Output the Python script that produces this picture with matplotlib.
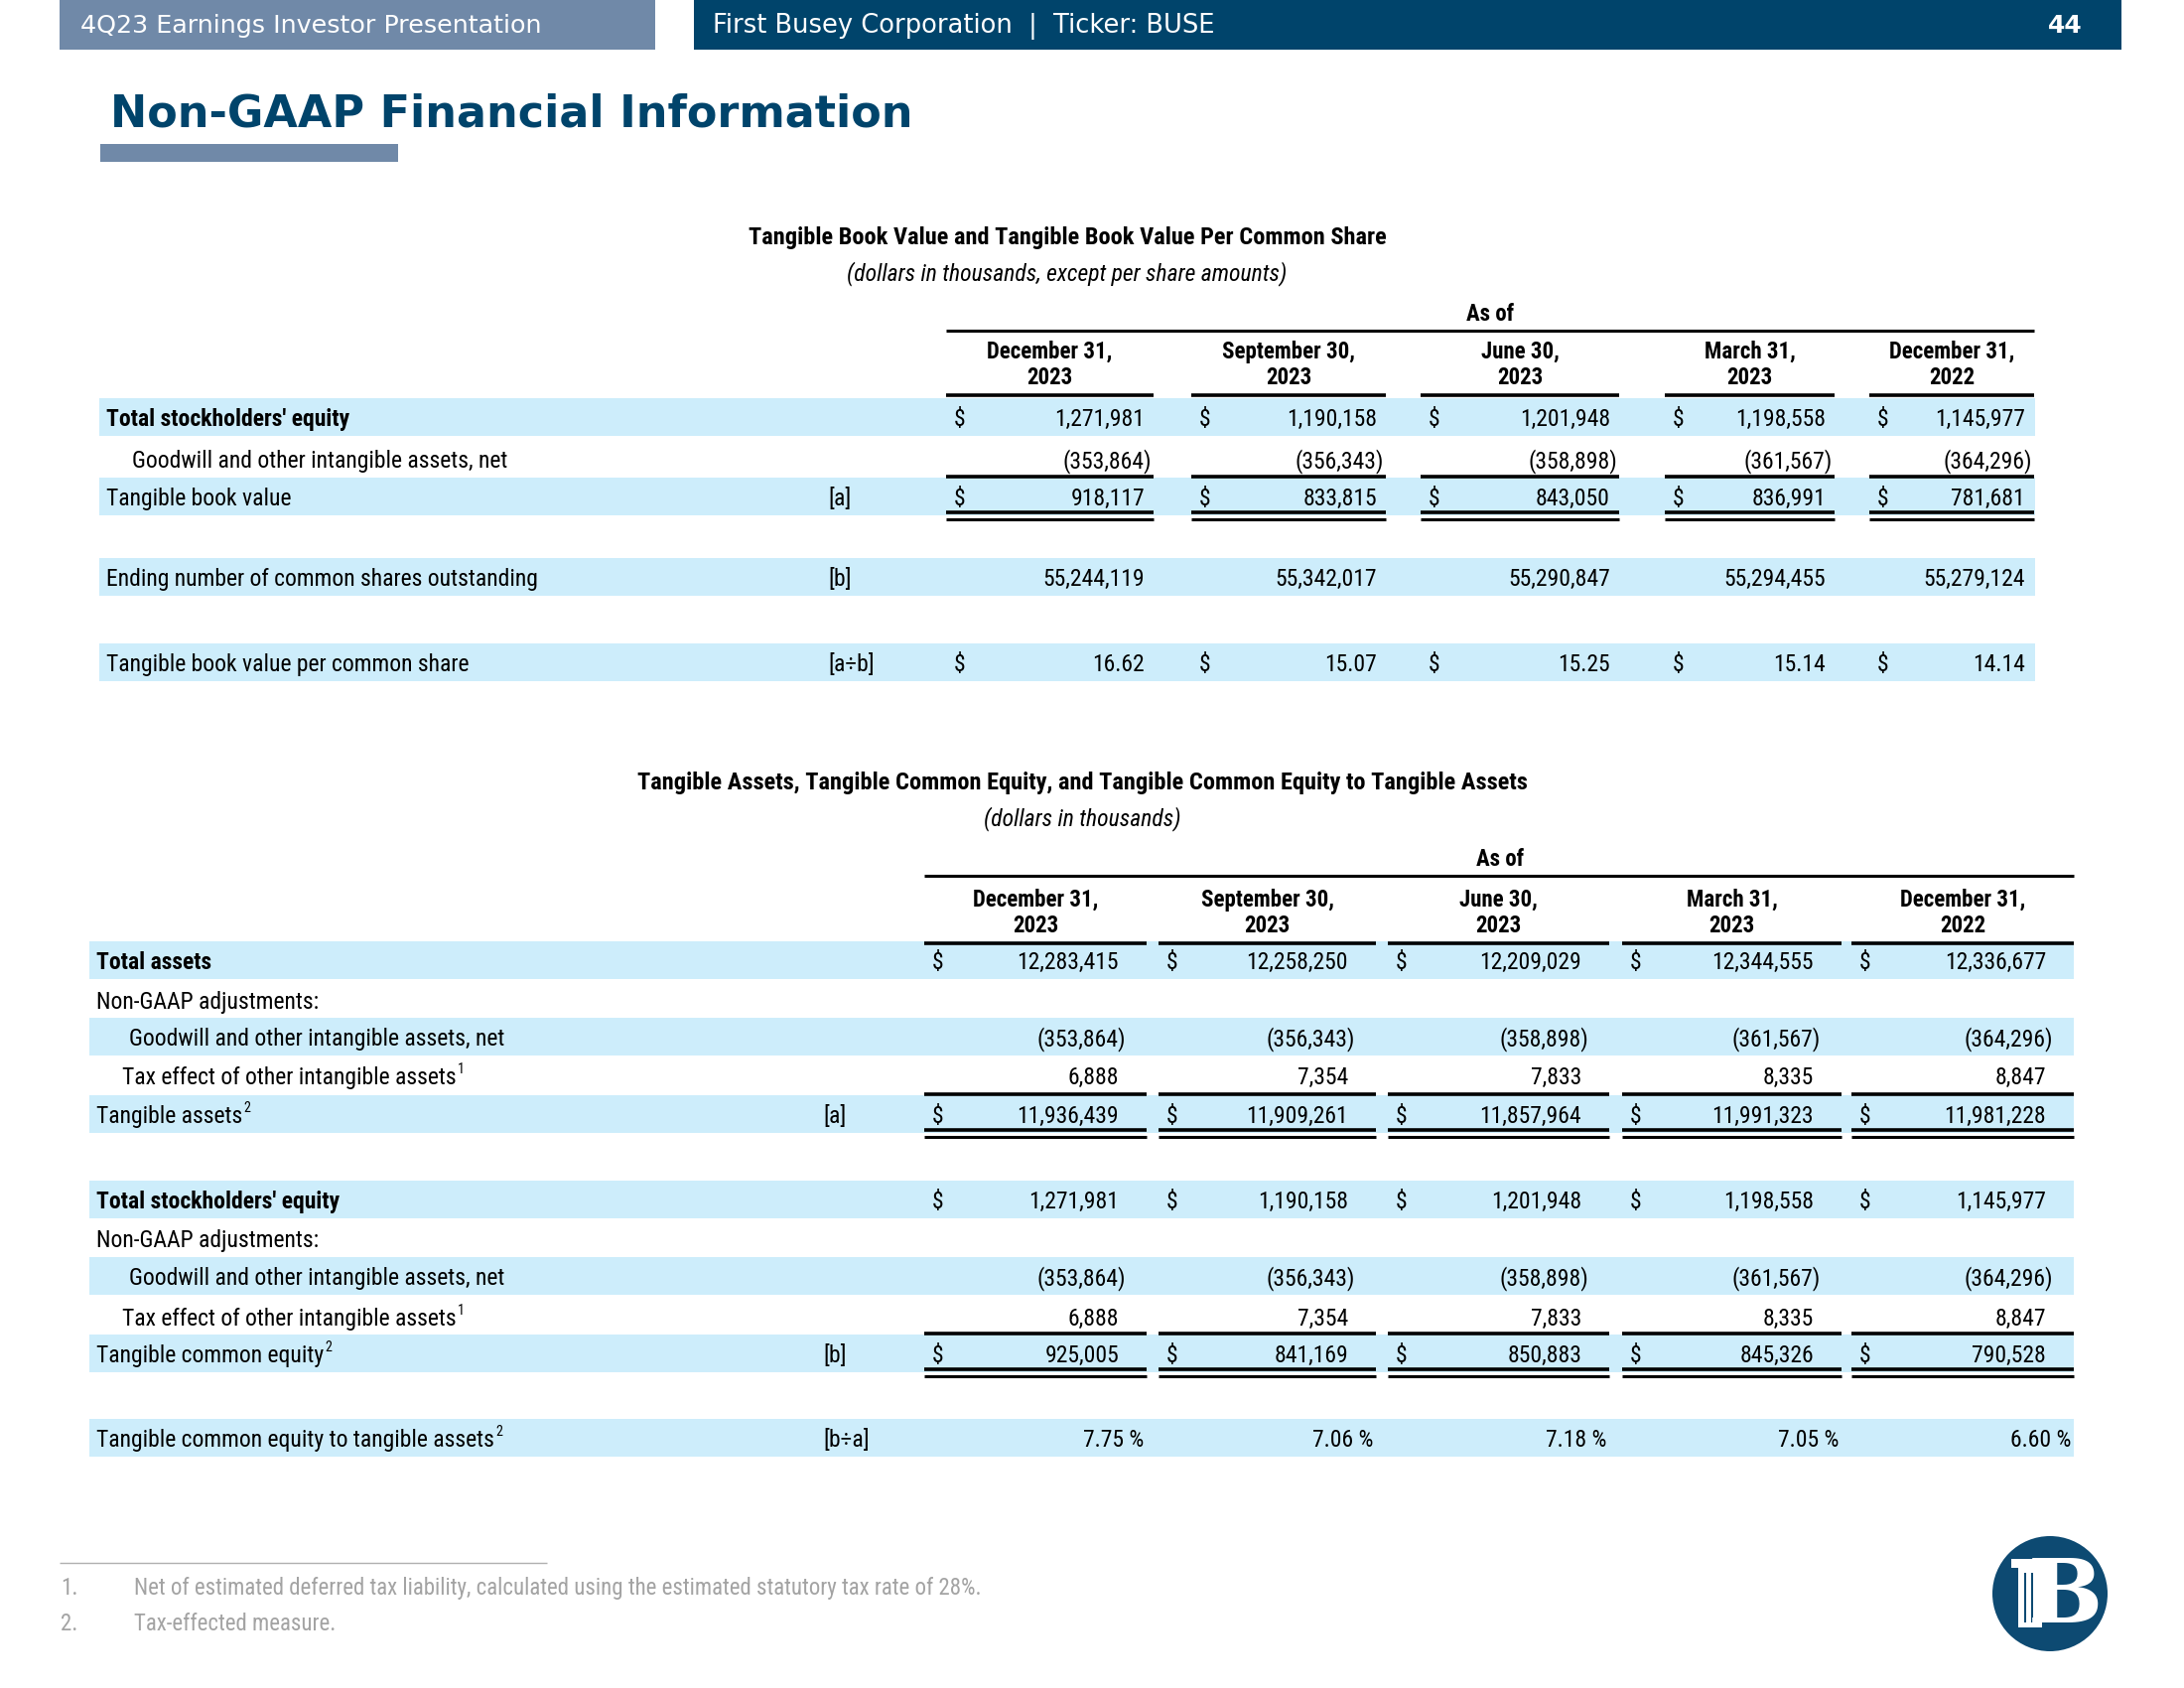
import matplotlib
matplotlib.use("Agg")
import matplotlib.pyplot as plt
from matplotlib import font_manager
from matplotlib.patches import Rectangle, Circle

# Data (dollars in thousands, except per share amounts)
dates = ["December 31,", "September 30,", "June 30,", "March 31,", "December 31,"]
years = ["2023", "2023", "2023", "2023", "2022"]

# Table 1: tangible book value
total_equity = [1271981, 1190158, 1201948, 1198558, 1145977]
goodwill = [-353864, -356343, -358898, -361567, -364296]
tangible_book = [918117, 833815, 843050, 836991, 781681]
shares_out = [55244119, 55342017, 55290847, 55294455, 55279124]
tbv_per_share = [16.62, 15.07, 15.25, 15.14, 14.14]

# Table 2: tangible common equity to tangible assets
total_assets = [12283415, 12258250, 12209029, 12344555, 12336677]
tax_effect = [6888, 7354, 7833, 8335, 8847]
tangible_assets = [11936439, 11909261, 11857964, 11991323, 11981228]
tangible_common_eq = [925005, 841169, 850883, 845326, 790528]
tce_ratio = [7.75, 7.06, 7.18, 7.05, 6.60]

footnotes = ["Net of estimated deferred tax liability, calculated using the estimated statutory tax rate of 28%.",
             "Tax-effected measure."]

NAVY = "#00446b"
SLATE = "#7089a8"
BAND = "#cdedfb"
GREY = "#a3a3a3"

names = {f.name for f in font_manager.fontManager.ttflist}
if "Liberation Sans Narrow" in names:
    NARROW = ["Liberation Sans Narrow", "DejaVu Sans"]
    BODY, HEAD, TITLE, SUB, NOTE = 18, 17, 18, 17.5, 17
elif "Roboto Condensed" in names:
    NARROW = ["Roboto Condensed", "DejaVu Sans"]
    BODY, HEAD, TITLE, SUB, NOTE = 17, 16.5, 17.6, 17, 16.5
else:
    NARROW = ["Liberation Sans", "DejaVu Sans"]
    BODY, HEAD, TITLE, SUB, NOTE = 15, 14.5, 15, 15, 15

fig = plt.figure(figsize=(22, 17), dpi=100)
ax = fig.add_axes([0, 0, 1, 1])
ax.set_xlim(0, 2200)
ax.set_ylim(1700, 0)
ax.axis("off")
renderer = fig.canvas.get_renderer()


def fmt_num(v, decimals=0):
    s = f"{abs(v):,.{decimals}f}"
    return f"({s})" if v < 0 else s


def txt(x, y, s, size=BODY, bold=False, italic=False, ha="left", color="black", family=None):
    return ax.text(x, y, s, fontsize=size, fontweight="bold" if bold else "normal",
                   fontstyle="italic" if italic else "normal", ha=ha, va="baseline",
                   color=color, family=family or NARROW)


def hline(x0, x1, y, lw=2.2, color="black"):
    ax.plot([x0, x1], [y, y], color=color, lw=lw, solid_capstyle="butt")


# ---- header bars ----
ax.add_patch(Rectangle((60, 0), 600, 50, color=SLATE, lw=0))
ax.add_patch(Rectangle((699, 0), 1438, 50, color=NAVY, lw=0))
txt(81, 33, "4Q23 Earnings Investor Presentation", size=18.3, color="white", family="DejaVu Sans")
txt(718, 33, "First Busey Corporation  |  Ticker: BUSE", size=18.5, color="white", family="DejaVu Sans")
txt(2098, 33, "44", size=18, bold=True, ha="right", color="white", family="DejaVu Sans")

txt(111, 127, "Non-GAAP Financial Information", size=32, bold=True, color=NAVY, family="DejaVu Sans")
ax.add_patch(Rectangle((101, 145), 300, 18, color=SLATE, lw=0))


def draw_table(spec):
    segs = spec["segs"]
    centers = [(a + b) / 2 for a, b in segs]
    txt(spec["title_x"], spec["title_y"], spec["title"], size=TITLE, bold=True, ha="center")
    txt(spec["title_x"], spec["title_y"] + 36, spec["subtitle"], size=SUB, italic=True, ha="center")
    txt(spec["asof_x"], spec["asof_y"] + 8, "As of", size=HEAD, bold=True, ha="center")
    hline(segs[0][0], segs[-1][1], spec["asof_y"] + 18, lw=2.2)
    for c, (a, b), d, yr in zip(centers, segs, dates, years):
        txt(c, spec["hdr_y"] + 8, d, size=HEAD, bold=True, ha="center")
        txt(c, spec["hdr_y"] + 34, yr, size=HEAD, bold=True, ha="center")
        hline(a, b, spec["hdr_y"] + 45, lw=2.6)

    for row in spec["rows"]:
        yc = row["y"]
        if row.get("band"):
            ax.add_patch(Rectangle((spec["band"][0], yc - 19), spec["band"][1] - spec["band"][0], 38,
                                   color=BAND, lw=0, zorder=0))
        base = yc + 9
        t = txt(spec["label_x"] + row.get("indent", 0), base, row["label"], bold=row.get("bold", False))
        if row.get("sup"):
            bb = t.get_window_extent(renderer)
            txt(bb.x1 + 1, base - 11, row["sup"], size=BODY * 0.6)
        if row.get("bracket"):
            txt(spec["bracket_x"], base, row["bracket"])
        vals = row.get("values")
        if vals is None:
            continue
        for (a, b), v in zip(segs, vals):
            if row.get("dollar"):
                txt(a + 8, base, "$")
            if row.get("pct"):
                txt(b - 3, base, f"{v:.2f} %", ha="right")
            else:
                s = fmt_num(v, row.get("dec", 0))
                xr = b + spec["val_off"] + (7 if v < 0 else 0)
                txt(xr, base, s, ha="right")
            if row.get("line_above"):
                hline(a, b, yc - 20, lw=2.6)
            if row.get("double"):
                hline(a, b, yc + 16, lw=2.6)
                hline(a, b, yc + 23, lw=2.2)


table1 = dict(
    title="Tangible Book Value and Tangible Book Value Per Common Share",
    subtitle="(dollars in thousands, except per share amounts)",
    title_x=1075, title_y=246, asof_x=1501, asof_y=315, hdr_y=353,
    segs=[(953, 1162), (1200, 1396), (1431, 1631), (1677, 1848), (1883, 2049)],
    band=(100, 2050), label_x=107, bracket_x=834, val_off=-9,
    rows=[
        dict(y=420, band=True, label="Total stockholders' equity", bold=True, values=total_equity, dollar=True),
        dict(y=462, label="Goodwill and other intangible assets, net", indent=26, values=goodwill),
        dict(y=500, band=True, label="Tangible book value", bracket="[a]", values=tangible_book,
             dollar=True, line_above=True, double=True),
        dict(y=581, band=True, label="Ending number of common shares outstanding", bracket="[b]", values=shares_out),
        dict(y=667, band=True, label="Tangible book value per common share", bracket="[a÷b]",
             values=tbv_per_share, dec=2, dollar=True),
    ],
)

table2 = dict(
    title="Tangible Assets, Tangible Common Equity, and Tangible Common Equity to Tangible Assets",
    subtitle="(dollars in thousands)",
    title_x=1090, title_y=795, asof_x=1511, asof_y=864, hdr_y=905,
    segs=[(931, 1155), (1167, 1386), (1398, 1621), (1634, 1855), (1865, 2089)],
    band=(90, 2089), label_x=97, bracket_x=829, val_off=-28,
    rows=[
        dict(y=967, band=True, label="Total assets", bold=True, values=total_assets, dollar=True),
        dict(y=1007, label="Non-GAAP adjustments:"),
        dict(y=1044, band=True, label="Goodwill and other intangible assets, net", indent=33, values=goodwill),
        dict(y=1083, label="Tax effect of other intangible assets", sup="1", indent=26, values=tax_effect),
        dict(y=1122, band=True, label="Tangible assets", sup="2", bracket="[a]", values=tangible_assets,
             dollar=True, line_above=True, double=True),
        dict(y=1208, band=True, label="Total stockholders' equity", bold=True, values=total_equity, dollar=True),
        dict(y=1247, label="Non-GAAP adjustments:"),
        dict(y=1285, band=True, label="Goodwill and other intangible assets, net", indent=33, values=goodwill),
        dict(y=1326, label="Tax effect of other intangible assets", sup="1", indent=26, values=tax_effect),
        dict(y=1363, band=True, label="Tangible common equity", sup="2", bracket="[b]", values=tangible_common_eq,
             dollar=True, line_above=True, double=True),
        dict(y=1448, band=True, label="Tangible common equity to tangible assets", sup="2", bracket="[b÷a]",
             values=tce_ratio, pct=True),
    ],
)

draw_table(table1)
draw_table(table2)

# ---- footnotes ----
hline(60, 551, 1574, lw=1.0, color="#b0b0b0")
for i, note in enumerate(footnotes):
    y = 1606 + i * 36
    txt(61, y, f"{i + 1}.", size=NOTE, color=GREY)
    txt(135, y, note, size=NOTE, color=GREY)

# ---- logo ----
ax.add_patch(Circle((2065, 1605), 58, color="#0d4a72", lw=0))
ax.text(2080, 1609, "B", fontsize=64, family="DejaVu Serif", fontweight="bold", color="white",
        ha="center", va="center")
ax.add_patch(Rectangle((2026, 1570), 42, 9, color="white", lw=0))
ax.add_patch(Rectangle((2033, 1579), 24, 60, color="white", lw=0))
for gx in (2039, 2046):
    ax.add_patch(Rectangle((gx, 1584), 2, 50, color="#0d4a72", lw=0))

fig.savefig("out.png", dpi=100, facecolor="white")
